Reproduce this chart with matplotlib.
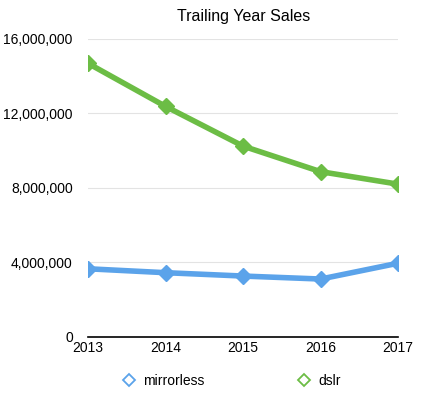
import matplotlib.pyplot as plt
from matplotlib.ticker import FuncFormatter

years = [2013, 2014, 2015, 2016, 2017]
mirrorless = [3660000, 3450000, 3270000, 3110000, 3960000]
dslr = [14680000, 12370000, 10240000, 8870000, 8200000]
y_ticks = [0, 4000000, 8000000, 12000000, 16000000]

plt.rcParams['font.family'] = ['Liberation Sans', 'DejaVu Sans']

fig = plt.figure(figsize=(4.3, 3.96), dpi=100)
ax = fig.add_axes([0.205, 0.149, 0.721, 0.753])

blue = '#5ba3ea'
green = '#6cbd45'
ax.plot(years, mirrorless, color=blue, lw=4, marker='D', ms=8, label='mirrorless', zorder=3)
ax.plot(years, dslr, color=green, lw=4, marker='D', ms=8, label='dslr', zorder=3)

ax.set_xlim(2013, 2017)
ax.set_ylim(0, 16000000)
ax.set_yticks(y_ticks)
ax.set_xticks(years)
ax.yaxis.set_major_formatter(FuncFormatter(lambda v, p: f'{int(v):,}'))
ax.grid(axis='y', color='#e3e3e3', lw=0.8)
ax.set_axisbelow(True)
for s in ['top', 'right', 'left']:
    ax.spines[s].set_visible(False)
ax.spines['bottom'].set_color('black')
ax.spines['bottom'].set_linewidth(1.2)
ax.tick_params(length=0, labelsize=10)
ax.tick_params(axis='x', pad=3)
ax.tick_params(axis='y', pad=11)

ax.set_title('Trailing Year Sales', fontsize=11.5, pad=13)

# hollow diamond legend
h1 = plt.Line2D([], [], ls='none', marker='D', ms=6, mfc='none', mec=blue, mew=1.3)
h2 = plt.Line2D([], [], ls='none', marker='D', ms=6, mfc='none', mec=green, mew=1.3)
fig.legend([h1, h2], ['mirrorless', 'dslr'], loc='center', bbox_to_anchor=(0.538, 0.037),
           ncol=2, frameon=False, fontsize=10, columnspacing=6.7,
           handlelength=1, handletextpad=0.5)

fig.savefig('out.png', dpi=100)
